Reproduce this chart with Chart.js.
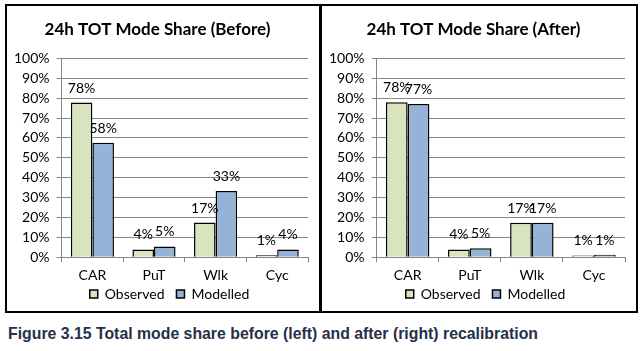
<!DOCTYPE html>
<html>
<head>
<meta charset="utf-8">
<script src="https://cdn.jsdelivr.net/npm/chart.js@4.4.1/dist/chart.umd.min.js"></script>
<style>
  body { margin: 0; background: #fff; width: 644px; height: 351px; position: relative; overflow: hidden; }
  .box { position: absolute; border: 2px solid #000; box-sizing: border-box; }
  canvas { position: absolute; }
  #caption { position: absolute; left: 8px; top: 324px; font: bold 17px "Liberation Sans", Arial, sans-serif;
             color: #243048; white-space: nowrap; transform-origin: 0 0; }
</style>
</head>
<body>
<div class="box" style="left:5px;top:4px;width:316px;height:309px"></div>
<div class="box" style="left:320px;top:4px;width:318px;height:309px"></div>
<canvas id="before" width="316" height="309" style="left:5px;top:4px"></canvas>
<canvas id="after" width="318" height="309" style="left:320px;top:4px"></canvas>
<div id="caption">Figure 3.15 Total mode share before (left) and after (right) recalibration</div>
<script>
// mode share data, % of trips
const modes = ['CAR', 'PuT', 'Wlk', 'Cyc'];
const observedBefore = [77.8, 3.9, 17.4, 1.0];
const modelledBefore = [57.6, 5.4, 33.3, 3.9];
const observedAfter = [77.9, 3.9, 17.3, 0.9];
const modelledAfter = [77.1, 4.5, 17.3, 1.2];
const yTicks = [0, 10, 20, 30, 40, 50, 60, 70, 80, 90, 100];

const FONT = 'Lato, "Open Sans", sans-serif';
const gridGrey = '#868686';

// draws the rounded % value above each bar
const barLabels = {
    id: 'barLabels',
    afterDatasetsDraw(chart) {
        const ctx = chart.ctx;
        ctx.save();
        ctx.font = '14px ' + FONT;
        ctx.fillStyle = '#000';
        ctx.textAlign = 'center';
        ctx.textBaseline = 'alphabetic';
        chart.data.datasets.forEach((ds, i) => {
            chart.getDatasetMeta(i).data.forEach((bar, j) => {
                ctx.fillText(Math.round(ds.data[j]) + '%', bar.x, bar.y - 10);
            });
        });
        ctx.restore();
    }
};

// nudge the legend right and up, like the Excel original
const legendShift = {
    id: 'legendShift',
    afterLayout(chart) {
        const lg = chart.legend;
        lg.left += 12;
        lg.right += 12;
        lg.top -= 7;
        lg.bottom -= 7;
    }
};

function makeChart(id, title, observed, modelled) {
    return new Chart(document.getElementById(id), {
        type: 'bar',
        data: {
            labels: modes,
            datasets: [{
                label: 'Observed',
                data: observed,
                backgroundColor: '#d7e4bd',
                borderColor: '#000',
                borderWidth: 1.5
            }, {
                label: 'Modelled',
                data: modelled,
                backgroundColor: '#95b3d7',
                borderColor: '#000',
                borderWidth: 1.5
            }]
        },
        options: {
            responsive: false,
            animation: false,
            devicePixelRatio: 1,
            layout: { padding: { left: 2, right: 13, bottom: -5 } },
            datasets: { bar: { categoryPercentage: 0.7, barPercentage: 1.0 } },
            plugins: {
                title: {
                    display: true,
                    text: title,
                    color: '#000',
                    font: { family: FONT, size: 17, weight: 'bold' },
                    padding: { top: 15, bottom: 19 }
                },
                legend: {
                    position: 'bottom',
                    labels: {
                        color: '#000',
                        font: { family: FONT, size: 14 },
                        boxWidth: 8,
                        boxHeight: 8,
                        padding: 12
                    }
                },
                tooltip: { enabled: false }
            },
            scales: {
                x: {
                    afterFit: axis => { axis.height -= 7; },
                    grid: { offset: true, drawOnChartArea: false, drawTicks: true, tickLength: 5, color: gridGrey },
                    border: { color: gridGrey },
                    ticks: { color: '#000', font: { family: FONT, size: 14 }, padding: 5 }
                },
                y: {
                    min: 0,
                    max: 100,
                    afterBuildTicks: axis => { axis.ticks = yTicks.map(v => ({ value: v })); },
                    grid: { color: gridGrey, tickLength: 5 },
                    border: { color: gridGrey },
                    ticks: { color: '#000', font: { family: FONT, size: 14 }, padding: 7, autoSkip: false,
                             callback: v => v + '%' }
                }
            }
        },
        plugins: [barLabels, legendShift]
    });
}

makeChart('before', '24h TOT Mode Share (Before)', observedBefore, modelledBefore);
makeChart('after', '24h TOT Mode Share (After)', observedAfter, modelledAfter);

// squeeze the caption to the width it has in the report
const cap = document.getElementById('caption');
cap.style.transform = 'scaleX(' + (530 / cap.getBoundingClientRect().width) + ')';
</script>
</body>
</html>
